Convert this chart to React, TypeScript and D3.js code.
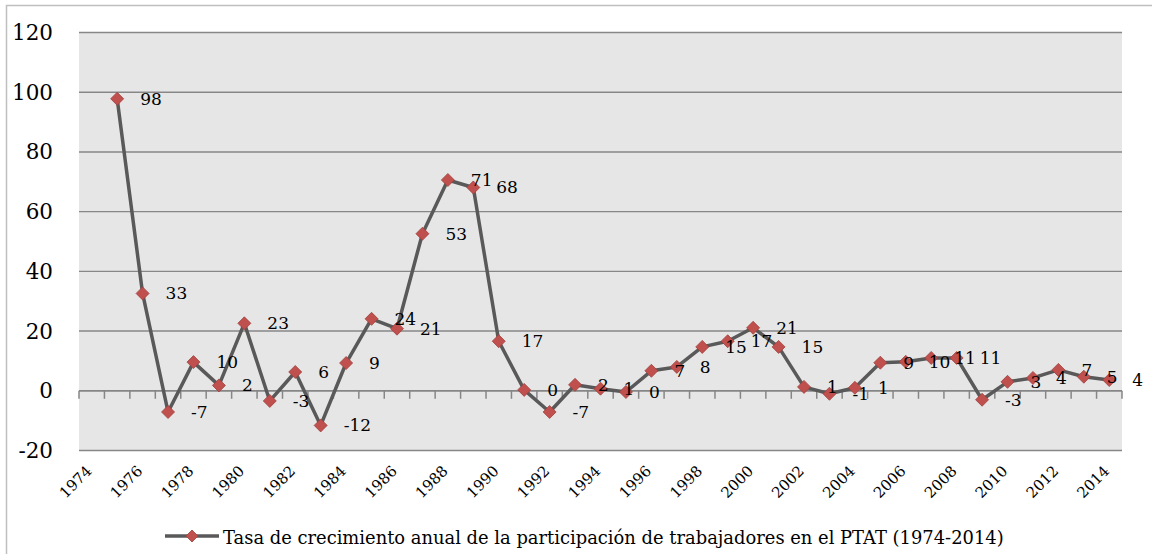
import React from "react";
import * as d3 from "d3";

// categories 1974..2014 (1974 has no value)
const years: number[] = d3.range(1974, 2015);

// annual growth rate (%)
const rates: (number | null)[] = [
  null, 97.8, 32.6, -7.1, 9.6, 1.8, 22.6, -3.4, 6.3, -11.6,
  9.3, 24.1, 20.8, 52.6, 70.6, 68.1, 16.6, 0.3, -7.1, 2.0,
  0.7, -0.4, 6.7, 8.0, 14.7, 16.6, 21.1, 14.7, 1.3, -1.0,
  1.0, 9.4, 9.7, 11.0, 11.0, -3.0, 3.0, 4.3, 7.0, 4.7, 3.6,
];

const yTicks = [-20, 0, 20, 40, 60, 80, 100, 120];
const legendLabel =
  "Tasa de crecimiento anual de la participación de trabajadores en el PTAT (1974-2014)";

const W = 1152;
const H = 554;
const FONT = "DejaVu Serif, serif";

function diamond(cx: number, cy: number, r: number) {
  return `M${cx},${cy - r}L${cx + r},${cy}L${cx},${cy + r}L${cx - r},${cy}Z`;
}

export default function App() {
  const x = d3.scaleBand<number>().domain(years).range([79, 1122]).padding(0);
  const y = d3.scaleLinear().domain([-20, 120]).range([450.5, 32.5]);
  const cx = (yr: number) => (x(yr) as number) + x.bandwidth() / 2;

  const pts = years
    .map((yr, i) => ({ yr, v: rates[i] }))
    .filter((d) => d.v !== null) as { yr: number; v: number }[];

  const line = d3
    .line<{ yr: number; v: number }>()
    .x((d) => cx(d.yr))
    .y((d) => y(d.v));

  const y0 = y(0);
  const boundaries = d3.range(years.length + 1).map((i) => 79 + i * x.bandwidth());

  return (
    <svg
      width={W}
      height={H}
      style={{ position: "absolute", left: 0, top: 0, background: "#fff" }}
      fontFamily={FONT}
    >
      {/* outer frame */}
      <rect x={6.5} y={5.5} width={1160} height={600} fill="#fff" stroke="#bfbfbf" strokeWidth={1.5} />

      {/* plot area */}
      <rect x={79} y={y(120)} width={1122 - 79} height={y(-20) - y(120)} fill="#e6e6e6" />
      {yTicks.map((t) => (
        <line key={t} x1={79} x2={1122} y1={y(t)} y2={y(t)} stroke="#878787" strokeWidth={1.4} />
      ))}

      {/* category axis at zero */}
      <line x1={79} x2={1122} y1={y0} y2={y0} stroke="#868686" strokeWidth={1.5} />
      {boundaries.map((bx, i) => (
        <line key={i} x1={bx} x2={bx} y1={y0} y2={y0 + 8} stroke="#868686" strokeWidth={1.5} />
      ))}

      {/* y labels */}
      {yTicks.map((t) => (
        <text key={t} x={53} y={y(t)} textAnchor="end" dominantBaseline="central" fontSize={21.5} fill="#000">
          {t}
        </text>
      ))}

      {/* x labels, every second year */}
      {years
        .filter((_, i) => i % 2 === 0)
        .map((yr) => (
          <text
            key={yr}
            transform={`translate(${cx(yr) + 1},${472}) rotate(-45)`}
            textAnchor="end"
            fontSize={15}
            fill="#000"
          >
            {yr}
          </text>
        ))}

      {/* series */}
      <path d={line(pts) || ""} fill="none" stroke="#595959" strokeWidth={3.5} strokeLinejoin="round" />
      {pts.map((d) => (
        <path key={d.yr} d={diamond(cx(d.yr), y(d.v), 6.5)} fill="#c0504d" stroke="#a0403d" strokeWidth={0.8} />
      ))}
      {pts.map((d) => (
        <text
          key={`l${d.yr}`}
          x={cx(d.yr) + 23}
          y={y(d.v)}
          dominantBaseline="central"
          fontSize={17}
          fill="#000"
        >
          {Math.round(d.v)}
        </text>
      ))}

      {/* legend */}
      <line x1={165} x2={219} y1={536} y2={536} stroke="#595959" strokeWidth={3.5} />
      <path d={diamond(192, 536, 6)} fill="#c0504d" stroke="#a0403d" strokeWidth={0.8} />
      <text x={223} y={537} dominantBaseline="central" fontSize={17.9} fill="#000">
        {legendLabel}
      </text>
    </svg>
  );
}
